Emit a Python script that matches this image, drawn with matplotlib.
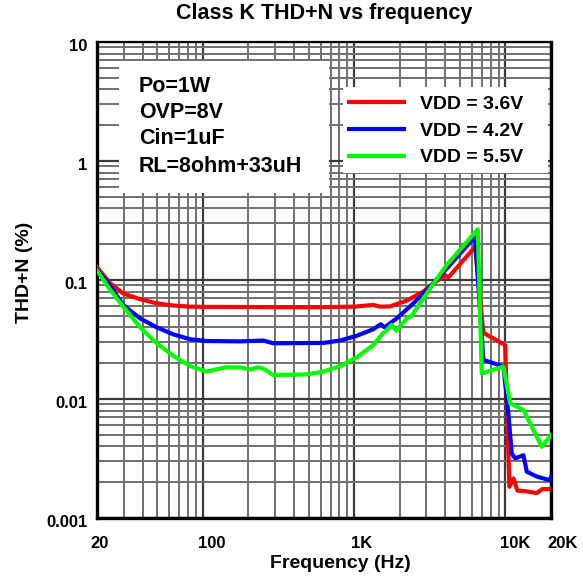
import matplotlib
matplotlib.use("Agg")
import matplotlib.pyplot as plt
import matplotlib.transforms as mtransforms
from matplotlib.ticker import FixedLocator, LogLocator, NullFormatter
from matplotlib.patches import Rectangle

plt.rcParams['font.family'] = ['Liberation Sans', 'DejaVu Sans']
plt.rcParams['font.weight'] = 'bold'

# ---------------- data ----------------
title = "Class K THD+N vs frequency"
xlabel = "Frequency (Hz)"
ylabel = "THD+N (%)"

x_ticks = [20, 100, 1000, 10000, 20000]
x_tick_labels = ["20", "100", "1K", "10K", "20K"]
y_ticks = [0.001, 0.01, 0.1, 1, 10]
y_tick_labels = ["0.001", "0.01", "0.1", "1", "10"]

info_lines = ["Po=1W", "OVP=8V", "Cin=1uF", "RL=8ohm+33uH"]

series_labels = ["VDD = 3.6V", "VDD = 4.2V", "VDD = 5.5V"]
series_colors = ["#ff0000", "#0000ff", "#00ff00"]

freq_36 = [20, 24.4, 29.8, 38.5, 49.6, 64, 82.4, 100, 200, 500, 1000, 1340, 1480,
           1730, 2230, 2870, 3400, 3990, 4200, 6300, 7150, 9950, 10620, 11300,
           12000, 13500, 16100, 17500, 20000]
thd_36 = [0.128, 0.094, 0.077, 0.069, 0.0637, 0.061, 0.0597, 0.0595, 0.0593, 0.059,
          0.0597, 0.0617, 0.0597, 0.060, 0.0672, 0.080, 0.095, 0.110, 0.105, 0.19,
          0.036, 0.0284, 0.00183, 0.00215, 0.0017, 0.00168, 0.00162, 0.00175, 0.00175]

freq_42 = [20, 24.4, 29.8, 38.5, 49.6, 63.9, 82.4, 106, 180, 251, 292, 627, 807,
           1041, 1340, 1500, 1590, 1914, 2467, 3178, 4094, 6300, 7150, 8320, 9700,
           10450, 11000, 11580, 13150, 13840, 16100, 19600, 20000]
thd_42 = [0.122, 0.09, 0.0616, 0.0476, 0.040, 0.0349, 0.0318, 0.0307, 0.0305, 0.031,
          0.0294, 0.0296, 0.031, 0.034, 0.0386, 0.0425, 0.040, 0.0476, 0.0637, 0.0879,
          0.125, 0.231, 0.0213, 0.020, 0.0187, 0.00759, 0.0035, 0.00317, 0.00337,
          0.00245, 0.00223, 0.00208, 0.0022]

freq_55 = [20, 24.4, 29.8, 38.5, 49.6, 63.9, 82.4, 106, 143, 176, 207, 232, 251,
           292, 486, 627, 807, 1041, 1340, 1500, 1773, 1900, 2228, 2400, 3178, 4094,
           6560, 6970, 9700, 10740, 13150, 17380, 20000]
thd_55 = [0.12, 0.083, 0.0597, 0.040, 0.0294, 0.0230, 0.0189, 0.0170, 0.0185, 0.0184,
          0.0177, 0.0185, 0.018, 0.0159, 0.0161, 0.017, 0.0189, 0.0224, 0.0284, 0.034,
          0.0419, 0.0375, 0.0476, 0.050, 0.0851, 0.134, 0.267, 0.0164, 0.0187, 0.0092,
          0.0081, 0.00397, 0.00498]

series = [(freq_36, thd_36), (freq_42, thd_42), (freq_55, thd_55)]

# ---------------- figure ----------------
W, H = 583, 588
fig = plt.figure(figsize=(W / 100, H / 100), dpi=100)
ax = fig.add_axes([97 / W, 1 - 518 / H, (551 - 97) / W, (518 - 42) / H])

ax.set_xscale("log")
ax.set_yscale("log")
ax.set_xlim(20, 20000)
ax.set_ylim(0.001, 10)

for (f, v), c, lab in zip(series, series_colors, series_labels):
    ax.plot(f, v, color=c, lw=3.0, label=lab, zorder=4, solid_joinstyle="round")

# ticks
ax.xaxis.set_major_locator(FixedLocator(x_ticks))
ax.set_xticklabels(x_tick_labels)
ax.xaxis.set_minor_locator(LogLocator(base=10, subs=range(2, 10), numticks=20))
ax.xaxis.set_minor_formatter(NullFormatter())
ax.yaxis.set_major_locator(FixedLocator(y_ticks))
ax.set_yticklabels(y_tick_labels)
ax.yaxis.set_minor_locator(LogLocator(base=10, subs=range(2, 10), numticks=20))
ax.yaxis.set_minor_formatter(NullFormatter())
ax.tick_params(which="both", length=0)
ax.tick_params(axis="x", which="major", pad=13, labelsize=12)
ax.tick_params(axis="y", which="major", pad=7, labelsize=12)

x_offsets_px = [3, 9, 8, 10, 12]
for lbl, dx in zip(ax.get_xticklabels(), x_offsets_px):
    lbl.set_transform(lbl.get_transform() + mtransforms.ScaledTranslation(dx / 100, 0, fig.dpi_scale_trans))
for lbl in ax.get_yticklabels():
    lbl.set_transform(lbl.get_transform() + mtransforms.ScaledTranslation(0, -3 / 100, fig.dpi_scale_trans))

ax.grid(True, which="major", color="#3a3a3a", lw=1.6, zorder=1)
ax.grid(True, which="minor", color="#707070", lw=1.4, zorder=1)
ax.set_axisbelow(True)

for s in ax.spines.values():
    s.set_linewidth(2.4)
    s.set_color("black")
ax.spines["top"].set_linewidth(1.6)

# labels
ax.set_title(title, fontsize=15.5, fontweight="bold", y=(518 - 14) / 476, va="center", pad=0)
ax.set_xlabel(xlabel, fontsize=14, fontweight="bold", va="center")
ax.xaxis.set_label_coords((340 - 97) / 454, (518 - 563) / 476)
ax.set_ylabel(ylabel, fontsize=14, fontweight="bold", va="center")
ax.yaxis.set_label_coords((24 - 97) / 454, (518 - 272) / 476)

# info box
x0, x1 = (119 - 97) / 454, (329 - 97) / 454
y0, y1 = (518 - 193) / 476, (518 - 61) / 476
ax.add_patch(Rectangle((x0, y0), x1 - x0, y1 - y0, transform=ax.transAxes,
                       facecolor="white", edgecolor="none", zorder=3))
line_y_px = [87, 112, 139, 166]
for txt, ypx in zip(info_lines, line_y_px):
    ax.text((139 - 97) / 454, (518 - ypx) / 476, txt, transform=ax.transAxes,
            fontsize=15.5, fontweight="bold", ha="left", va="center", zorder=5)

# legend box + legend
lx0, lx1 = (343 - 97) / 454, (548 - 97) / 454
ly0, ly1 = (518 - 173) / 476, (518 - 87) / 476
ax.add_patch(Rectangle((lx0, ly0), lx1 - lx0, ly1 - ly0, transform=ax.transAxes,
                       facecolor="white", edgecolor="none", zorder=3))
leg = ax.legend(loc="upper left", bbox_to_anchor=((349 - 97) / 454, (518 - 95) / 476),
                fontsize=14, frameon=False,
                handlelength=2.85, handletextpad=0.78, labelspacing=0.48,
                borderpad=0.0, borderaxespad=0.0)
leg.set_zorder(6)
for t in leg.get_texts():
    t.set_fontweight("bold")

fig.savefig("out.png", dpi=100)
